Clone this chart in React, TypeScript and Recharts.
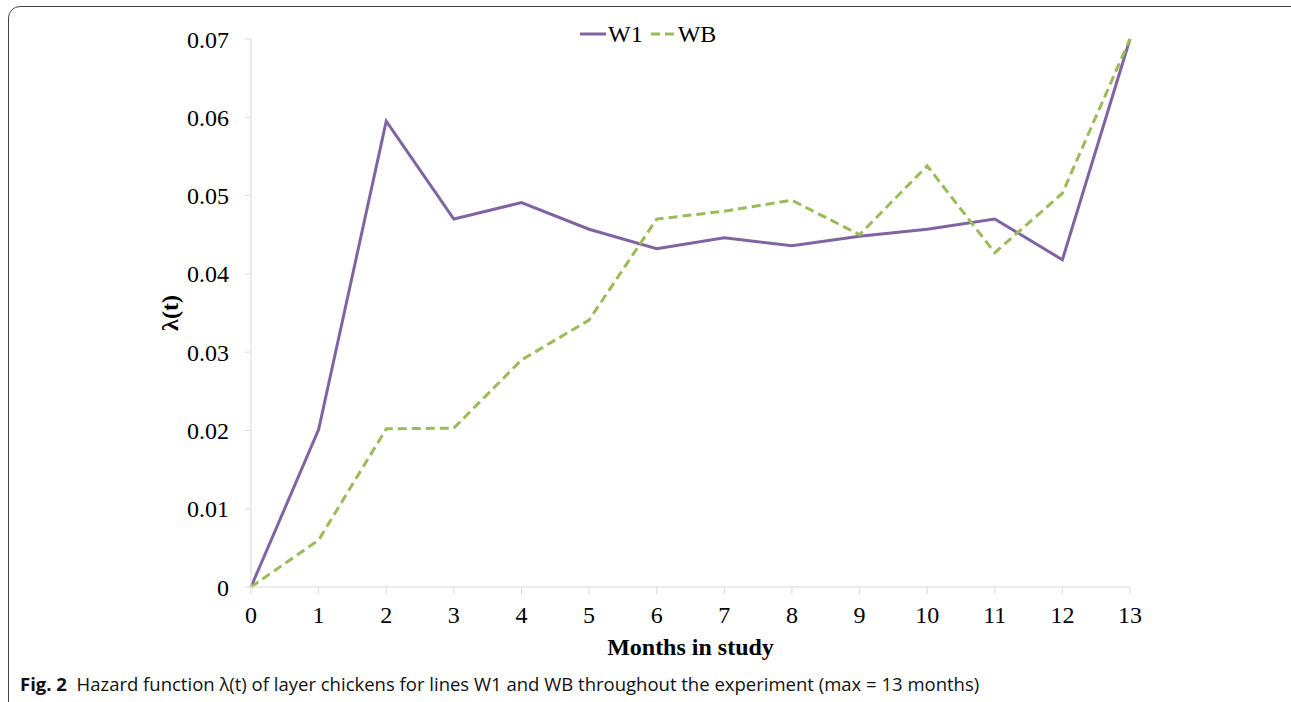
import React from 'react';
import { LineChart, Line, XAxis, YAxis, Label } from 'recharts';

// months 0..13
const months = [0, 1, 2, 3, 4, 5, 6, 7, 8, 9, 10, 11, 12, 13];
const w1 = [0, 0.0201, 0.0595, 0.047, 0.0491, 0.0457, 0.0432, 0.0446, 0.0436, 0.0448, 0.0457, 0.047, 0.0418, 0.07];
const wb = [0, 0.006, 0.0202, 0.0203, 0.029, 0.0341, 0.047, 0.048, 0.0494, 0.045, 0.0538, 0.0427, 0.0503, 0.07];
const yTicks = [0, 0.01, 0.02, 0.03, 0.04, 0.05, 0.06, 0.07];

const data = months.map((m, i) => ({ month: m, W1: w1[i], WB: wb[i] }));

const PURPLE = '#8064a2';
const GREEN = '#9bbb59';
const SERIF = '"Liberation Serif", "Times New Roman", serif';

// legend sits over the plot area, so keep it out of recharts' layout
const LegendBox = () => (
  <div
    style={{
      position: 'absolute',
      left: 580,
      top: 20,
      display: 'flex',
      fontFamily: SERIF,
      fontSize: 24,
      color: '#000',
      lineHeight: '28px',
    }}
  >
    <span style={{ display: 'flex', alignItems: 'center', marginRight: 8 }}>
      <svg width={26} height={10}>
        <line x1={0} y1={5} x2={26} y2={5} stroke={PURPLE} strokeWidth={3} />
      </svg>
      <span style={{ marginLeft: 2 }}>W1</span>
    </span>
    <span style={{ display: 'flex', alignItems: 'center' }}>
      <svg width={23} height={10}>
        <line x1={0} y1={5} x2={23} y2={5} stroke={GREEN} strokeWidth={3} strokeDasharray="9 5" />
      </svg>
      <span style={{ marginLeft: 4 }}>WB</span>
    </span>
  </div>
);

export default function App() {
  return (
    <div style={{ position: 'absolute', left: 0, top: 0, width: 1291, height: 702, overflow: 'hidden', background: '#fff' }}>
      <div
        style={{
          position: 'absolute',
          left: 8,
          top: 6,
          width: 1300,
          height: 720,
          border: '1.5px solid #444',
          borderRadius: 12,
          boxSizing: 'border-box',
        }}
      />
      <LineChart
        width={1291}
        height={702}
        data={data}
        margin={{ top: 39, right: 161, bottom: 85, left: 151 }}
        style={{ position: 'absolute', left: 0, top: 0 }}
      >
        <XAxis
          dataKey="month"
          type="number"
          domain={[0, 13]}
          ticks={months}
          interval={0}
          stroke="#d9d9d9"
          tickSize={7}
          tickMargin={12}
          height={30}
          tick={{ fill: '#000', fontFamily: SERIF, fontSize: 24 }}
        >
          <Label
            value="Months in study"
            position="insideBottom"
            offset={-38}
            style={{ fill: '#000', fontFamily: SERIF, fontSize: 24, fontWeight: 'bold' }}
          />
        </XAxis>
        <YAxis
          type="number"
          domain={[0, 0.07]}
          ticks={yTicks}
          interval={0}
          stroke="#d9d9d9"
          tickSize={6}
          tickMargin={16}
          width={100}
          tick={{ fill: '#000', fontFamily: SERIF, fontSize: 24 }}
        >
          <Label
            value="λ(t)"
            angle={-90}
            position="insideLeft"
            offset={18}
            style={{ fill: '#000', fontFamily: SERIF, fontSize: 24, fontWeight: 'bold', textAnchor: 'middle' }}
          />
        </YAxis>
        <Line dataKey="W1" stroke={PURPLE} strokeWidth={3} dot={false} isAnimationActive={false} />
        <Line dataKey="WB" stroke={GREEN} strokeWidth={3} strokeDasharray="9 5" dot={false} isAnimationActive={false} />
      </LineChart>
      <LegendBox />
      <div
        style={{
          position: 'absolute',
          left: 20,
          top: 671,
          fontFamily: '"Open Sans", "Noto Sans", sans-serif',
          fontSize: 18.5,
          color: '#111',
          whiteSpace: 'nowrap',
        }}
      >
        <b>Fig. 2</b>&nbsp;&nbsp;Hazard function λ(t) of layer chickens for lines W1 and WB throughout the experiment (max = 13 months)
      </div>
    </div>
  );
}
